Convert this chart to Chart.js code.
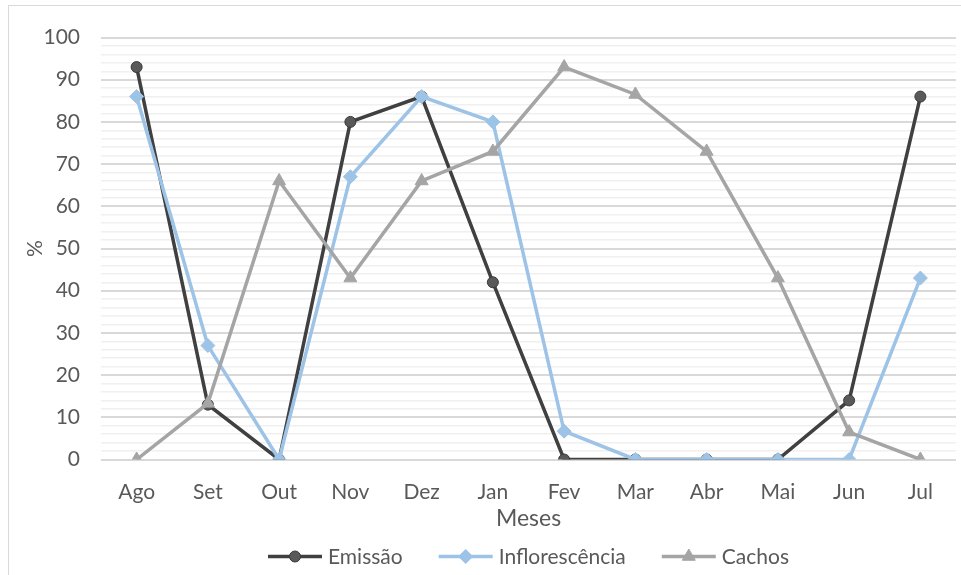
<!DOCTYPE html>
<html lang="pt">
<head>
<meta charset="utf-8">
<title>Emissão, inflorescência e cachos por mês</title>
<script src="https://cdn.jsdelivr.net/npm/chart.js@4/dist/chart.umd.min.js"></script>
<style>
  html, body { margin: 0; padding: 0; background: #ffffff; }
  #wrap { position: relative; width: 961px; height: 575px; overflow: hidden; }
  #frame {
    position: absolute; left: 8px; top: 5px; width: 1000px; height: 1000px;
    border: 1.5px solid #d9d9d9; pointer-events: none; box-sizing: border-box;
  }
  canvas { position: absolute; left: 0; top: 0; }
</style>
</head>
<body>
<div id="wrap">
  <canvas id="chart" width="961" height="575"></canvas>
  <div id="frame"></div>
</div>
<script>
// Months (August to July)
const meses = ['Ago', 'Set', 'Out', 'Nov', 'Dez', 'Jan', 'Fev', 'Mar', 'Abr', 'Mai', 'Jun', 'Jul'];

// Percentages per month
const emissao = [93, 13, 0, 80, 86, 42, 0, 0, 0, 0, 14, 86];
const inflorescencia = [86, 27, 0, 67, 86, 80, 6.7, 0, 0, 0, 0, 43];
const cachos = [0, 13.3, 66, 43, 66, 73, 93, 86.5, 73, 43, 6.5, 0];

// Y axis: 0..100, labelled every 10, minor gridlines every 2
const yMin = 0;
const yMax = 100;
const yMinorStep = 2;
const yLabelStep = 10;

const FONT = 'Lato';
const TEXT = '#595959';

// Legend drawn as a line segment with the marker in its middle, followed by the label
const lineLegend = {
  id: 'lineLegend',
  afterDraw(chart, args, opts) {
    const ctx = chart.ctx;
    ctx.save();
    ctx.font = opts.size + 'px ' + opts.family;
    const items = chart.data.datasets.map(ds => ({ ds, w: ctx.measureText(ds.label).width }));
    const total = items.reduce((s, it) => s + opts.lineLen + opts.textGap + it.w, 0)
      + opts.itemGap * (items.length - 1);
    const area = chart.chartArea;
    let x = (area.left + area.right) / 2 - total / 2;
    const y = opts.y;
    items.forEach(({ ds, w }) => {
      ctx.strokeStyle = ds.borderColor;
      ctx.lineWidth = ds.borderWidth;
      ctx.lineCap = 'butt';
      ctx.beginPath();
      ctx.moveTo(x, y);
      ctx.lineTo(x + opts.lineLen, y);
      ctx.stroke();
      ctx.fillStyle = ds.pointBackgroundColor;
      ctx.strokeStyle = ds.pointBorderColor;
      ctx.lineWidth = ds.pointBorderWidth;
      Chart.helpers.drawPoint(ctx, {
        pointStyle: ds.pointStyle,
        radius: ds.pointRadius,
        borderWidth: ds.pointBorderWidth,
        rotation: 0
      }, x + opts.lineLen / 2, y);
      ctx.fillStyle = TEXT;
      ctx.textAlign = 'left';
      ctx.textBaseline = 'alphabetic';
      ctx.fillText(ds.label, x + opts.lineLen + opts.textGap, y + opts.baselineShift);
      x += opts.lineLen + opts.textGap + w + opts.itemGap;
    });
    ctx.restore();
  }
};

new Chart(document.getElementById('chart'), {
  type: 'line',
  data: {
    labels: meses,
    datasets: [
      {
        label: 'Emissão',
        data: emissao,
        borderColor: '#404040',
        borderWidth: 3.5,
        pointStyle: 'circle',
        pointRadius: 5.5,
        pointBackgroundColor: '#595959',
        pointBorderColor: '#3a3a3a',
        pointBorderWidth: 1,
        order: 3
      },
      {
        label: 'Inflorescência',
        data: inflorescencia,
        borderColor: '#9dc3e6',
        borderWidth: 3.5,
        pointStyle: 'rectRot',
        pointRadius: 7,
        pointBackgroundColor: '#9dc3e6',
        pointBorderColor: '#9dc3e6',
        pointBorderWidth: 1,
        order: 2
      },
      {
        label: 'Cachos',
        data: cachos,
        borderColor: '#a5a5a5',
        borderWidth: 3.5,
        pointStyle: 'triangle',
        pointRadius: 7.5,
        pointBackgroundColor: '#a5a5a5',
        pointBorderColor: '#a5a5a5',
        pointBorderWidth: 1,
        order: 1
      }
    ]
  },
  options: {
    responsive: false,
    animation: false,
    devicePixelRatio: 1,
    layout: { autoPadding: false, padding: { left: 0, right: 5, top: 37.5, bottom: 42.5 } },
    elements: { line: { tension: 0 } },
    plugins: {
      legend: { display: false },
      tooltip: { enabled: false },
      lineLegend: {
        family: FONT, size: 21, lineLen: 54, textGap: 6, itemGap: 36,
        y: 556.5, baselineShift: 7
      }
    },
    scales: {
      x: {
        offset: true,
        grid: { display: false, drawTicks: false },
        border: { display: false },
        ticks: { color: TEXT, font: { family: FONT, size: 21 }, padding: 20, maxRotation: 0 },
        title: {
          display: true, text: 'Meses', color: TEXT,
          font: { family: FONT, size: 23 }, padding: { top: 0, bottom: 0 }
        },
        afterFit(scale) {
          scale.height = 73;
          scale.paddingLeft = 0;
          scale.paddingRight = 0;
        }
      },
      y: {
        min: yMin,
        max: yMax,
        grid: {
          drawTicks: false,
          color: c => (c.tick && c.tick.value % yLabelStep === 0) ? '#d9d9d9' : '#f0f0f0',
          lineWidth: c => (c.tick && c.tick.value % yLabelStep === 0) ? 2 : 1.5
        },
        border: { display: false },
        ticks: {
          stepSize: yMinorStep,
          autoSkip: false,
          color: TEXT,
          font: { family: FONT, size: 21 },
          padding: 21,
          callback: v => (v % yLabelStep === 0 ? String(v) : '')
        },
        title: {
          display: true, text: '%', color: TEXT,
          font: { family: FONT, size: 21 }, padding: { top: 23, bottom: 0 }
        },
        afterFit(scale) { scale.width = 101; }
      }
    }
  },
  plugins: [lineLegend]
});
</script>
</body>
</html>
